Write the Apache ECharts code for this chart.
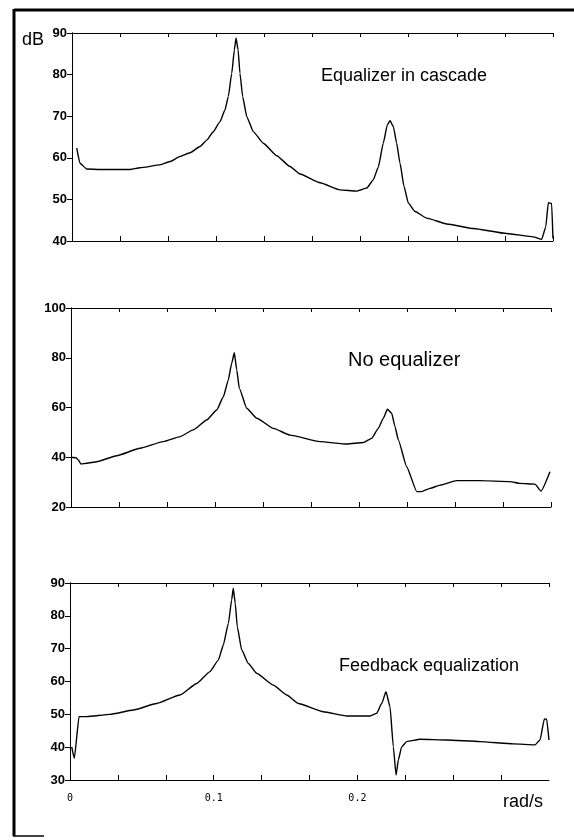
<!DOCTYPE html>
<html>
<head>
<meta charset="utf-8">
<script src="https://cdn.jsdelivr.net/npm/echarts@6/dist/echarts.min.js"></script>
<style>
  html, body { margin: 0; padding: 0; background: #fff; }
  #main { width: 574px; height: 840px; }
</style>
</head>
<body>
<div id="main"></div>
<script>
var chartDom = document.getElementById('main');
var myChart = echarts.init(chartDom);
var option;

// frequency axis (rad/s) and the three magnitude responses (dB)
const freqTicks = ['0', '0.1', '0.2'];

const cascadeFreq = [0.0033, 0.0055, 0.0102, 0.0194, 0.0402, 0.0471, 0.061, 0.0679, 0.0748, 0.0818,
  0.0887, 0.0936, 0.0977, 0.1026, 0.106, 0.1083, 0.1107, 0.1125, 0.1137, 0.1151,
  0.1164, 0.1183, 0.1211, 0.1256, 0.1326, 0.1419, 0.1511, 0.158, 0.1719, 0.1857,
  0.1973, 0.2042, 0.2088, 0.2123, 0.2157, 0.2185, 0.2204, 0.2227, 0.225, 0.2273,
  0.2301, 0.2331, 0.2377, 0.2458, 0.2597, 0.2781, 0.3012, 0.3197, 0.3255, 0.3283,
  0.3301, 0.3324, 0.3333];
const cascadeDb = [62.3, 58.7, 57.3, 57.2, 57.2, 57.6, 58.3, 59.1, 60.3, 61.2,
  62.7, 64.3, 66.2, 68.7, 71.5, 74.7, 80.3, 85.9, 88.8, 85.9,
  80.3, 74.7, 69.9, 66.3, 63.5, 60.5, 57.9, 56.1, 54, 52.3,
  52, 52.7, 54.7, 57.8, 63.5, 67.9, 68.9, 67.5, 63.5, 58.7,
  53.1, 49.1, 47.1, 45.5, 44.1, 43, 41.8, 41, 40.4, 43.4,
  49.2, 49, 40.6];

const noEqFreq = [0, 0.0035, 0.0051, 0.0069, 0.0109, 0.0178, 0.0317, 0.0479, 0.0641, 0.0757,
  0.0849, 0.0942, 0.1012, 0.1058, 0.1092, 0.1116, 0.1134, 0.1151, 0.1169, 0.122,
  0.129, 0.1405, 0.1521, 0.1729, 0.1915, 0.203, 0.2088, 0.2134, 0.2169, 0.2197,
  0.2227, 0.225, 0.2273, 0.2331, 0.2401, 0.2435, 0.2493, 0.2563, 0.2678, 0.284,
  0.3049, 0.3118, 0.3222, 0.3264, 0.3326];
const noEqDb = [40, 39.8, 38.9, 37.3, 37.6, 38.2, 40.6, 43.6, 46.3, 48.3,
  51, 55, 59, 64.3, 71, 77.8, 82, 75.1, 67.7, 59.7,
  55.7, 51.6, 48.9, 46.3, 45.3, 45.9, 47.6, 51.6, 55.7, 59.3,
  57.7, 52.3, 47, 36.2, 26.2, 26.2, 27.5, 28.8, 30.6, 30.6,
  30.2, 29.5, 29.2, 26.4, 34.2];

const feedbackFreq = [0.0012, 0.003, 0.0063, 0.0116, 0.0278, 0.0441, 0.0603, 0.0765, 0.0882, 0.0974,
  0.1032, 0.1067, 0.1102, 0.1125, 0.1136, 0.115, 0.1164, 0.1195, 0.1241, 0.1299,
  0.1415, 0.1508, 0.1589, 0.1763, 0.1926, 0.2088, 0.2134, 0.2169, 0.2199, 0.2227,
  0.225, 0.2269, 0.2285, 0.2308, 0.2343, 0.2436, 0.2621, 0.2853, 0.3085, 0.3236,
  0.3271, 0.3301, 0.3317, 0.3333];
const feedbackDb = [40.1, 36.6, 49.3, 49.3, 50, 51.3, 53.3, 55.9, 59.4, 63,
  66.5, 71.1, 77.7, 84.8, 88.4, 83.8, 76.7, 69.6, 65.5, 62.5,
  58.9, 55.9, 53.3, 50.8, 49.5, 49.5, 50.3, 53.3, 56.9, 52.3,
  40.1, 31.5, 36.1, 40.1, 41.7, 42.4, 42.2, 41.7, 41, 40.7,
  42.2, 48.6, 48.5, 42.2];

const panelTitles = ['Equalizer in cascade', 'No equalizer', 'Feedback equalization'];
const yRanges = [[40, 90, 10], [20, 100, 20], [30, 90, 10]];

function pairs(xs, ys) {
  return xs.map(function (x, i) { return [x, ys[i]]; });
}

const curves = [pairs(cascadeFreq, cascadeDb), pairs(noEqFreq, noEqDb), pairs(feedbackFreq, feedbackDb)];

const grids = [
  { left: 72, right: 21, top: 33, height: 208 },
  { left: 71, right: 23, top: 308, height: 199 },
  { left: 70, right: 25, top: 583, height: 197 }
];

const xStep = 1 / 30;

function xLabel(v) {
  const k = Math.round(v / xStep);
  if (k % 3 !== 0) return '';
  const idx = k / 3;
  return idx < freqTicks.length ? freqTicks[idx] : '';
}

let xAxes = [];
let yAxes = [];
let series = [];

for (let i = 0; i < 3; i++) {
  // bottom axis
  xAxes.push({
    type: 'value', gridIndex: i, position: 'bottom',
    min: 0, max: 1 / 3, interval: xStep,
    axisLine: { show: true, onZero: false, lineStyle: { color: '#000', width: 1 } },
    axisTick: { show: true, inside: true, length: 5, lineStyle: { color: '#000' } },
    axisLabel: {
      show: i === 2, margin: 13, formatter: xLabel, showMaxLabel: false,
      color: '#000', fontFamily: 'DejaVu Sans Mono', fontSize: 10
    },
    splitLine: { show: false }
  });
  // left axis
  yAxes.push({
    type: 'value', gridIndex: i, position: 'left',
    min: yRanges[i][0], max: yRanges[i][1], interval: yRanges[i][2],
    axisLine: { show: true, lineStyle: { color: '#000', width: 1 } },
    axisTick: { show: true, length: 4, lineStyle: { color: '#000' } },
    axisLabel: {
      margin: 5, color: '#000', fontFamily: 'Liberation Sans',
      fontWeight: 'bold', fontSize: 13
    },
    splitLine: { show: false }
  });
  series.push({
    type: 'line', xAxisIndex: i, yAxisIndex: i,
    data: curves[i], showSymbol: false, symbol: 'none',
    smooth: 0.15, smoothMonotone: 'x',
    lineStyle: { color: '#000', width: 1.4 },
    animation: false
  });
}
for (let i = 0; i < 3; i++) {
  // top and right axes carry the inner ticks of the box
  xAxes.push({
    type: 'value', gridIndex: i, position: 'top',
    min: 0, max: 1 / 3, interval: xStep,
    axisLine: { show: true, onZero: false, lineStyle: { color: '#000', width: 1 } },
    axisTick: { show: true, inside: true, length: 4, lineStyle: { color: '#000' } },
    axisLabel: { show: false },
    splitLine: { show: false }
  });
  yAxes.push({
    type: 'value', gridIndex: i, position: 'right',
    min: yRanges[i][0], max: yRanges[i][1], interval: yRanges[i][2],
    axisLine: { show: true, lineStyle: { color: '#000', width: 1 } },
    axisTick: { show: true, inside: true, length: 5, lineStyle: { color: '#000' } },
    axisLabel: { show: false },
    splitLine: { show: false }
  });
}

const titleFont = 'Liberation Sans';

option = {
  backgroundColor: '#fff',
  animation: false,
  grid: grids,
  xAxis: xAxes,
  yAxis: yAxes,
  series: series,
  graphic: [
    // page frame
    { type: 'line', shape: { x1: 14, y1: 10, x2: 574, y2: 10 }, style: { stroke: '#000', lineWidth: 3 } },
    { type: 'line', shape: { x1: 14, y1: 9, x2: 14, y2: 836 }, style: { stroke: '#000', lineWidth: 3 } },
    { type: 'line', shape: { x1: 13, y1: 836, x2: 44, y2: 836 }, style: { stroke: '#000', lineWidth: 1.5 } },
    { type: 'text', x: 22, y: 40, style: { text: 'dB', fontFamily: titleFont, fontSize: 18, fill: '#000', verticalAlign: 'middle' } },
    { type: 'text', x: 321, y: 76, style: { text: panelTitles[0], fontFamily: titleFont, fontSize: 18, fill: '#000', verticalAlign: 'middle' } },
    { type: 'text', x: 348, y: 360, style: { text: panelTitles[1], fontFamily: titleFont, fontSize: 20, fill: '#000', verticalAlign: 'middle' } },
    { type: 'text', x: 339, y: 666, style: { text: panelTitles[2], fontFamily: titleFont, fontSize: 18, fill: '#000', verticalAlign: 'middle' } },
    { type: 'text', x: 503, y: 802, style: { text: 'rad/s', fontFamily: titleFont, fontSize: 18, fill: '#000', verticalAlign: 'middle' } }
  ]
};

option && myChart.setOption(option);
</script>
</body>
</html>
